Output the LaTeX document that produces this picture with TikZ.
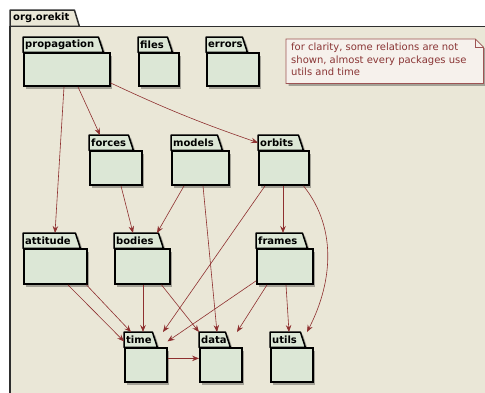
\documentclass[tikz,border=0pt]{standalone}
\usepackage{fontspec}
\setmainfont{DejaVu Sans}
\usetikzlibrary{shadows,arrows.meta}
\definecolor{bgc}{HTML}{EAE7D7}
\definecolor{pkgc}{HTML}{DCE7D6}
\definecolor{arrc}{HTML}{8E2F2F}
\definecolor{framec}{HTML}{2E2E2E}
\definecolor{notefill}{HTML}{F6F1EC}
\definecolor{notedraw}{HTML}{9E5454}
\definecolor{notetxt}{HTML}{8A3535}
\tikzset{
  shad/.style={drop shadow={shadow xshift=2.5pt,shadow yshift=-2.5pt,fill=black,opacity=0.3}},
  tabbox/.style={anchor=north west,inner sep=0pt,minimum height=15pt},
  tabshape/.style={shad,fill=pkgc,draw=black,line width=1.5pt,line join=round},
  tabtext/.style={anchor=west,inner sep=0pt,font=\bfseries\fontsize{10}{12}\selectfont},
  bodybox/.style={shad,anchor=north west,inner sep=0pt,fill=pkgc,draw=black,line width=1.5pt},
  dep/.style={draw=arrc,line width=0.6pt,-{Stealth[length=7pt,width=5.5pt,inset=2.5pt]}},
  notebox/.style={anchor=north west,inner sep=0pt,minimum width=197pt,minimum height=44pt},
  noteshape/.style={shad,fill=notefill,draw=notedraw,line width=0.7pt},
  notetext/.style={anchor=north west,inner sep=0pt,align=left,text=notetxt,font=\fontsize{10}{12.3}\selectfont},
}
\newcommand{\pkgbox}[7]{%
  \node[tabbox,minimum width={(#5)-(#3)}] (#1L) at (#3,#4) {};
  \path[tabshape] (#1L.south west) -- (#1L.north west) -- (#1L.north east) -- ([xshift=5pt]#1L.south east) -- cycle;
  \node[tabtext] (#1T) at ([xshift=2pt]#1L.west) {#2};
  \node[bodybox,minimum width={(#6)-(#3)},minimum height={(#7)-(#4)-15}] (#1) at (#1L.south west) {};
}
\begin{document}
\begin{tikzpicture}[x=1pt,y=-1pt]
\useasboundingbox (0,0) rectangle (485,392);
\fill[white] (-10,-10) rectangle (530,430);
\node[anchor=north west,inner sep=0pt,minimum width=64pt,minimum height=16pt] (outerL) at (10,10) {};
\path[fill=bgc,draw=framec,line width=1.5pt,line join=round] (outerL.south west) -- (outerL.north west) -- (outerL.north east) -- ([xshift=5pt]outerL.south east) -- cycle;
\path[fill=bgc,draw=framec,line width=1.5pt] (outerL.south west) rectangle (530,430);
\node[tabtext] (outerT) at ([xshift=3pt]outerL.west) {org.orekit};

\pkgbox{prop}{propagation}{23}{37}{98}{109}{85}
\pkgbox{fil}{files}{138}{37}{167}{178}{85}
\pkgbox{err}{errors}{206}{37}{242}{258}{85}
\pkgbox{for}{forces}{89}{135}{128}{141}{184}
\pkgbox{mod}{models}{171}{135}{217}{228}{184}
\pkgbox{orb}{orbits}{258}{135}{298}{308}{184}
\pkgbox{att}{attitude}{23}{233}{75}{86}{283}
\pkgbox{bod}{bodies}{114}{233}{158}{169}{283}
\pkgbox{frm}{frames}{256}{233}{302}{312}{283}
\pkgbox{tim}{time}{124}{332}{152}{166}{381}
\pkgbox{dat}{data}{199}{332}{225}{241}{381}
\pkgbox{utl}{utils}{270}{332}{300}{312}{381}

% note
\node[notebox] (noteB) at (286,39) {};
\path[noteshape] (noteB.north west) -- ([xshift=-8pt]noteB.north east) -- ([yshift=-8pt]noteB.north east) -- (noteB.south east) -- (noteB.south west) -- cycle;
\draw[draw=notedraw,line width=0.7pt] ([xshift=-8pt]noteB.north east) |- ([yshift=-8pt]noteB.north east);
\node[notetext] (noteT) at ([xshift=5pt,yshift=-4pt]noteB.north west) {for clarity, some relations are not\\shown, almost every packages use\\utils and time};

% dependencies
\draw[dep] ([xshift=41pt]prop.south west) -- ([xshift=32pt]attL.north west);
\draw[dep] ([xshift=55pt]prop.south west) -- ([xshift=11pt]forL.north west);
\draw[dep] ([yshift=4pt]prop.south east) to[bend right=3] (orbL.west);
\draw[dep] ([xshift=32pt]for.south west) -- ([xshift=19pt]bodL.north west);
\draw[dep] ([xshift=13pt]mod.south west) -- ([xshift=43pt]bodL.north west);
\draw[dep] ([xshift=32pt]mod.south west) -- ([xshift=18pt]datL.north west);
\draw[dep] ([xshift=7pt]orb.south west) -- ([xshift=39pt]timL.north west);
\draw[dep] ([xshift=25pt]orb.south west) -- ([xshift=27pt]frmL.north west);
\draw[dep] ([xshift=-6pt]orb.south east) .. controls ([xshift=30pt,yshift=-45pt]orb.south east) and ([xshift=30pt,yshift=45pt]utlL.north east) .. ([xshift=37pt]utlL.north west);
\draw[dep] ([xshift=45pt]att.south west) -- ([yshift=6pt]tim.north west);
\draw[dep] ([xshift=-1pt]att.south east) -- ([xshift=7pt]timL.north west);
\draw[dep] ([xshift=29pt]bod.south west) -- ([xshift=19pt]timL.north west);
\draw[dep] ([xshift=-9pt]bod.south east) -- (datL.north west);
\draw[dep] ([yshift=4pt]frm.south west) -- ([yshift=6pt]tim.north east);
\draw[dep] ([xshift=11pt]frm.south west) -- ([xshift=38pt]datL.north west);
\draw[dep] ([xshift=30pt]frm.south west) -- ([xshift=19pt]utlL.north west);
\draw[dep] ([yshift=-11pt]tim.north east) -- ([yshift=-11pt]dat.north west);
\end{tikzpicture}
\end{document}
